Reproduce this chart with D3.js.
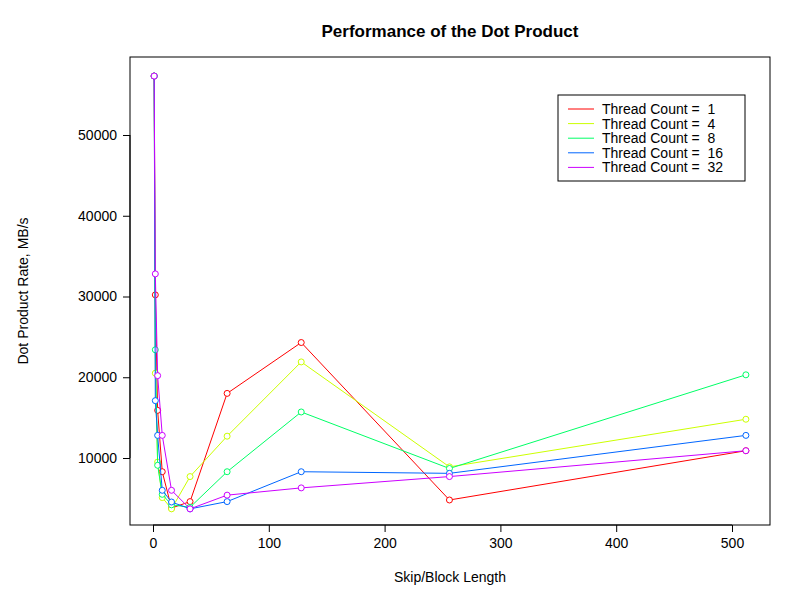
<!DOCTYPE html>
<html><head><meta charset="utf-8">
<script src="https://cdn.jsdelivr.net/npm/d3@7"></script>
<style>body{margin:0;background:#fff}text{font-family:"Liberation Sans",Arial,sans-serif}</style>
</head><body><svg id="c" width="800" height="600"></svg>
<script>
var skip = [1, 2, 4, 8, 16, 32, 64, 128, 256, 512];
var threads = [1, 4, 8, 16, 32];
var colors = ["#FF0000", "#CCFF00", "#00FF66", "#0066FF", "#CC00FF"];
var t1 = [57300, 30200, 15900, 8300, 3800, 4600, 18000, 24300, 4800, 10900];
var t4 = [57300, 20500, 9500, 5100, 3700, 7700, 12700, 21900, 8900, 14800];
var t8 = [57300, 23400, 9100, 5500, 4200, 3900, 8300, 15700, 8700, 20300];
var t16 = [57300, 17100, 12800, 6000, 4550, 3700, 4600, 8300, 8100, 12800];
var t32 = [57300, 32800, 20200, 12800, 6000, 3700, 5400, 6300, 7700, 10900];
var series = [t1, t4, t8, t16, t32];

var svg = d3.select("#c");
var x = d3.scaleLinear().domain([0, 500]).range([153, 732]);
var y = d3.scaleLinear().domain([0, 50000]).range([538.75, 135]);

svg.append("rect").attr("x", 130).attr("y", 57).attr("width", 640).attr("height", 468)
  .attr("fill", "none").attr("stroke", "#000");

svg.append("g").attr("transform", "translate(0,525)")
  .call(d3.axisBottom(x).tickValues([0, 100, 200, 300, 400, 500]).tickSize(7).tickPadding(6))
  .call(g => g.select(".domain").attr("d", "M" + x(0) + ",0H" + x(500)))
  .selectAll("text").attr("font-size", 14);
var ya = svg.append("g").attr("transform", "translate(130,0)")
  .call(d3.axisLeft(y).tickValues([10000, 20000, 30000, 40000, 50000]).tickSize(7).tickPadding(6).tickFormat(d3.format("d")));
ya.select(".domain").attr("d", "M0," + y(10000) + "V" + y(50000));
ya.selectAll(".tick text").attr("font-size", 14);

series.forEach(function (s, i) {
  var pts = skip.map(function (k, j) { return [x(k), y(s[j])]; });
  svg.append("path").attr("d", d3.line()(pts)).attr("fill", "none")
    .attr("stroke", colors[i]).attr("stroke-width", 1);
  svg.selectAll(null).data(pts).enter().append("circle")
    .attr("cx", d => d[0]).attr("cy", d => d[1]).attr("r", 3)
    .attr("fill", "#fff").attr("stroke", colors[i]);
});

svg.append("text").attr("x", 450).attr("y", 37).attr("text-anchor", "middle")
  .attr("font-size", 17).attr("font-weight", "bold").text("Performance of the Dot Product");
svg.append("text").attr("x", 450).attr("y", 582).attr("text-anchor", "middle")
  .attr("font-size", 14).text("Skip/Block Length");
svg.append("text").attr("transform", "translate(28,291) rotate(-90)").attr("text-anchor", "middle")
  .attr("font-size", 14).text("Dot Product Rate, MB/s");

var lg = svg.append("g").attr("transform", "translate(558,95)");
lg.append("rect").attr("width", 187).attr("height", 86).attr("fill", "#fff").attr("stroke", "#000");
threads.forEach(function (t, i) {
  var yy = 14 + i * 14.6;
  lg.append("line").attr("x1", 10).attr("x2", 36).attr("y1", yy).attr("y2", yy).attr("stroke", colors[i]);
  lg.append("text").attr("x", 44).attr("y", yy + 5).attr("font-size", 14)
    .attr("xml:space", "preserve").text("Thread Count =  " + t);
});
</script></body></html>
